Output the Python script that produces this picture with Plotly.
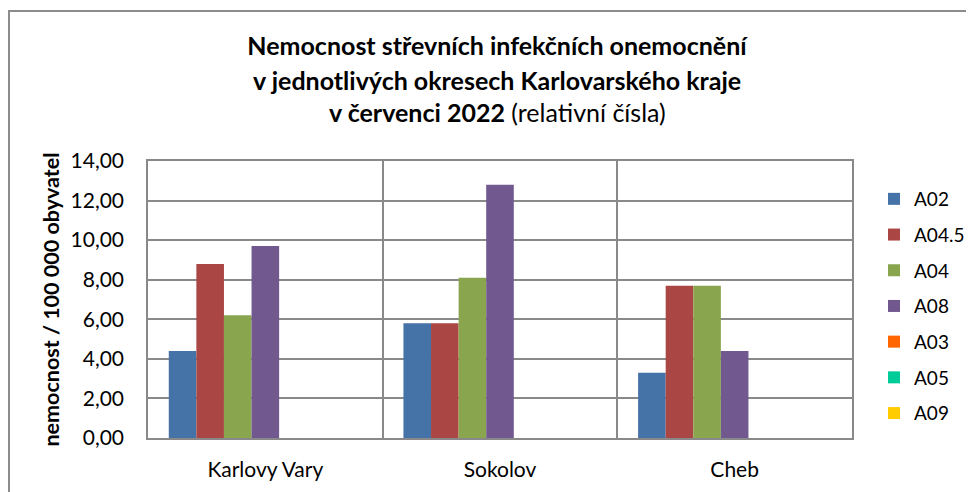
import plotly.graph_objects as go

categories = ["Karlovy Vary", "Sokolov", "Cheb"]
series_names = ["A02", "A04.5", "A04", "A08", "A03", "A05", "A09"]
a02 = [4.4, 5.8, 3.3]
a04_5 = [8.8, 5.8, 7.7]
a04 = [6.2, 8.1, 7.7]
a08 = [9.7, 12.8, 4.4]
a03 = [0, 0, 0]
a05 = [0, 0, 0]
a09 = [0, 0, 0]
values = [a02, a04_5, a04, a08, a03, a05, a09]
colors = ["#4572A7", "#AA4643", "#89A54E", "#71588F", "#FF6600", "#00CC99", "#FFCC00"]
y_ticks = [0, 2, 4, 6, 8, 10, 12, 14]

FONT = "Lato"
OFF = 8  # page body margin
W, H = 966, 484
L, R, T, B = 140, 122, 153, 54
pw, ph = W - L - R, H - T - B

def px_x(sx):
    return (sx - OFF - L) / pw

def px_y(sy):
    return (H - B - (sy - OFF)) / ph

fig = go.Figure()
for name, vals, col in zip(series_names, values, colors):
    fig.add_trace(go.Bar(
        name=name, x=categories, y=vals, marker_color=col,
        marker_line_width=0, legendgroup=name,
    ))

grid = "#898989"
fig.update_layout(
    width=W, height=H,
    margin=dict(l=L, r=R, t=T, b=B, autoexpand=False),
    paper_bgcolor="white", plot_bgcolor="white",
    barmode="group", bargap=0.177, bargroupgap=0,
    separators=", ",
    font=dict(family=FONT, size=21, color="#000000"),
    showlegend=True,
    legend=dict(
        x=px_x(874), xanchor="left", y=px_y(180), yanchor="top",
        font=dict(family=FONT, size=19, color="#000000"),
        tracegroupgap=8, bgcolor="rgba(0,0,0,0)",
    ),
    title=dict(
        text="<b>Nemocnost střevních infekčních onemocnění</b>",
        x=(497 - OFF) / W, xanchor="center", y=1 - (46 - OFF) / H, yanchor="middle",
        xref="container", yref="container",
        font=dict(family=FONT, size=25, color="#000000"),
    ),
    annotations=[
        dict(text="<b>v jednotlivých okresech Karlovarského kraje</b>",
             xref="paper", yref="paper", x=px_x(497), y=px_y(80),
             xanchor="center", yanchor="middle", showarrow=False,
             font=dict(family=FONT, size=25, color="#000000")),
        dict(text="<b>v červenci 2022</b> (relativní čísla)",
             xref="paper", yref="paper", x=px_x(497), y=px_y(112),
             xanchor="center", yanchor="middle", showarrow=False,
             font=dict(family=FONT, size=25, color="#000000")),
    ],
    shapes=[
        dict(type="rect", xref="paper", yref="paper",
             x0=px_x(9), x1=px_x(1000), y0=px_y(520), y1=px_y(11),
             line=dict(color="#8C8C8C", width=2), fillcolor="rgba(0,0,0,0)",
             layer="below"),
    ],
)

fig.update_xaxes(
    type="category", tickson="boundaries", showgrid=True,
    gridcolor=grid, gridwidth=1.5, showline=True, linecolor=grid,
    linewidth=1.5, mirror=True, ticks="", ticklabelstandoff=12,
    tickfont=dict(family=FONT, size=21, color="#000000"),
)
fig.update_yaxes(
    range=[0, 14], tickvals=y_ticks, tickformat=".2f", showgrid=True,
    gridcolor=grid, gridwidth=1.5, showline=True, linecolor=grid,
    linewidth=1.5, mirror=True, ticks="", zeroline=False,
    ticklabelstandoff=18,
    tickfont=dict(family=FONT, size=21, color="#000000"),
    title=dict(text="<b>nemocnost / 100 000 obyvatel</b>", standoff=5,
               font=dict(family=FONT, size=21.5, color="#000000")),
)

fig.write_html("out.html")
